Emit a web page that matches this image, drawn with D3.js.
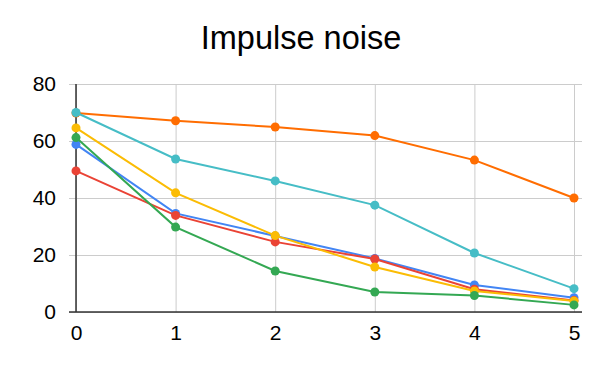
<!DOCTYPE html>
<html>
<head>
<meta charset="utf-8">
<script src="https://cdn.jsdelivr.net/npm/d3@7"></script>
<style>
html,body{margin:0;padding:0;background:#fff;}
svg{display:block;font-family:"Liberation Sans",Arial,sans-serif;}
</style>
</head>
<body>
<svg id="chart" width="600" height="371"></svg>
<script>
const title = "Impulse noise";
const xValues = [0, 1, 2, 3, 4, 5];
const yTicks = [0, 20, 40, 60, 80];
const seriesNames = ["s1", "s2", "s3", "s4", "s5", "s6"];
const colors = ["#4285F4", "#EA4335", "#FBBC04", "#34A853", "#FF6D01", "#46BDC6"];
const blueValues   = [58.8, 34.6, 26.7, 18.8, 9.5, 5.0];
const redValues    = [49.5, 33.9, 24.6, 18.6, 8.0, 4.0];
const yellowValues = [64.6, 41.8, 26.8, 15.8, 7.4, 3.9];
const greenValues  = [61.2, 29.8, 14.4, 7.0, 5.8, 2.5];
const orangeValues = [69.8, 67.1, 64.9, 61.9, 53.3, 40.0];
const cyanValues   = [70.0, 53.7, 46.0, 37.5, 20.7, 8.2];
const allSeries = [blueValues, redValues, yellowValues, greenValues, orangeValues, cyanValues];

(function () {
const svg = d3.select("#chart");
const mLeft = 76, mRight = 574, mTop = 84, mBottom = 312;
const x = d3.scaleLinear().domain([0, 5]).range([mLeft, mRight]);
const y = d3.scaleLinear().domain([0, 80]).range([mBottom, mTop]);

svg.append("text").attr("x", 301).attr("y", 49).attr("text-anchor", "middle")
  .attr("font-size", 32.5).attr("fill", "#000").text(title);

const yAxis = d3.axisLeft(y).tickValues(yTicks).tickSize(-(582 - 69)).tickPadding(13).tickFormat(d3.format("d"));
const gy = svg.append("g").attr("transform", "translate(69,0)").call(yAxis);
gy.select(".domain").remove();
gy.selectAll(".tick line").attr("stroke", "#cccccc").attr("stroke-width", 1);
gy.selectAll(".tick text").attr("font-size", 21).attr("fill", "#000").attr("font-family", "Liberation Sans, Arial, sans-serif");

const xAxis = d3.axisBottom(x).tickValues(xValues).tickSize(-(mBottom - mTop)).tickPadding(13).tickFormat(d3.format("d"));
const gx = svg.append("g").attr("transform", `translate(0,${mBottom})`).call(xAxis);
gx.select(".domain").remove();
gx.selectAll(".tick line").attr("stroke", "#cccccc").attr("stroke-width", 1);
gx.selectAll(".tick text").attr("font-size", 21).attr("fill", "#000").attr("font-family", "Liberation Sans, Arial, sans-serif");

svg.append("line").attr("x1", x(0)).attr("x2", x(0)).attr("y1", y(80)).attr("y2", y(0))
  .attr("stroke", "#333").attr("stroke-width", 1.5);
svg.append("line").attr("x1", 69).attr("x2", 582).attr("y1", y(0)).attr("y2", y(0))
  .attr("stroke", "#333").attr("stroke-width", 1.5);

const line = d3.line().x((d, i) => x(xValues[i])).y(d => y(d));
allSeries.forEach((vals, si) => {
  const g = svg.append("g");
  g.append("path").datum(vals).attr("d", line).attr("fill", "none")
    .attr("stroke", colors[si]).attr("stroke-width", 2);
  g.selectAll("circle").data(vals).join("circle")
    .attr("cx", (d, i) => x(xValues[i])).attr("cy", d => y(d)).attr("r", 4.5)
    .attr("fill", colors[si]);
});
})();
</script>
</body>
</html>
